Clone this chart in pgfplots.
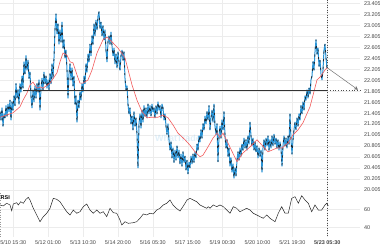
\documentclass[border=0pt]{standalone}
\usepackage{fontspec}
\setmainfont{Liberation Sans}
\usepackage{pgfplots}
\pgfplotsset{compat=1.18}
\usetikzlibrary{arrows.meta}
\definecolor{cblue}{HTML}{2A93D5}
\definecolor{cdark}{HTML}{1C2A36}
\definecolor{mared}{HTML}{F25A5A}
\definecolor{gridc}{HTML}{ECECEC}
\definecolor{tickc}{HTML}{444444}
\pgfplotsset{
  base/.style={
    scale only axis, width=360bp, xmin=0, xmax=360,
    axis line style={draw=none}, major tick length=0pt,
    xmajorgrids, ymajorgrids, grid style={gridc, line width=0.4bp},
    tick label style={font=\fontsize{5.5}{6}\selectfont, text=tickc},
    /pgf/number format/assume math mode=true,
    xtick={13.2,48.1,83,117.9,152.8,187.7,222.6,257.5,292.4,327.3},
    yticklabel pos=right,
    yticklabel style={anchor=west, xshift=0.5bp},
    clip=false,
  },
  price/.style={line join=round}
}
\pgfplotstableread{
x p
0 21.43
1 21.28
2 21.50
3 21.17
4 21.39
5 21.32
6 21.54
7 21.35
8 21.57
9 21.43
10 21.64
11 21.28
12 21.61
13 21.46
14 21.72
15 21.54
16 21.94
17 21.68
18 21.83
19 21.57
20 21.94
21 21.79
22 22.08
23 21.86
24 22.34
25 22.12
26 22.45
27 22.19
28 22.37
29 22.04
30 22.15
31 21.72
32 21.50
33 21.83
34 21.61
35 21.90
36 21.68
37 21.94
38 21.79
39 22.01
40 21.46
41 21.86
42 22.04
43 21.83
44 22.15
45 21.94
46 22.08
47 21.86
48 22.01
49 21.83
50 22.12
51 21.94
52 22.30
53 22.04
54 22.41
55 22.92
56 23.21
57 22.85
58 23.03
59 22.66
60 22.92
61 22.70
62 23.06
63 22.59
64 22.74
65 22.41
66 22.55
67 22.19
68 21.68
69 22.12
70 22.30
71 22.01
72 22.23
73 21.90
74 22.08
75 21.57
76 21.72
77 21.24
78 21.64
79 21.50
80 21.79
81 21.64
82 21.94
83 21.79
84 22.08
85 21.94
86 22.30
87 22.15
88 22.48
89 22.34
90 22.66
91 22.45
92 22.81
93 22.66
94 23.03
95 22.81
96 23.10
97 22.92
98 23.17
99 23.25
100 22.95
101 23.06
102 22.81
103 23.00
104 22.74
105 22.92
106 22.55
107 22.34
108 22.70
109 22.81
110 22.66
111 22.88
112 22.63
113 22.45
114 22.59
115 22.30
116 22.48
117 22.23
118 22.52
119 22.34
120 22.19
121 22.45
122 22.55
123 22.37
124 22.52
125 22.04
126 21.83
127 21.90
128 21.57
129 21.39
130 21.50
131 21.21
132 21.35
133 21.10
134 21.43
135 21.17
136 21.32
137 21.02
138 20.41
139 21.21
140 21.39
141 21.13
142 21.46
143 21.24
144 21.54
145 21.35
146 21.50
147 21.32
148 21.57
149 21.39
150 21.54
151 21.35
152 21.57
153 21.43
154 21.50
155 21.32
156 21.54
157 21.39
158 21.61
159 21.46
160 21.54
161 21.32
162 21.57
163 21.50
164 21.28
165 21.39
166 21.17
167 21.02
168 21.21
169 20.92
170 20.73
171 20.88
172 20.59
173 20.77
174 20.51
175 20.73
176 20.55
177 20.81
178 20.59
179 20.73
180 20.48
181 20.66
182 20.44
183 20.70
184 20.51
185 20.62
186 20.37
187 20.55
188 20.30
189 20.51
190 20.41
191 20.62
192 20.48
193 20.66
194 20.51
195 20.70
196 20.59
197 20.84
198 20.73
199 20.99
200 20.88
201 21.10
202 20.95
203 21.21
204 21.10
205 21.35
206 21.21
207 21.43
208 21.28
209 21.54
210 21.10
211 21.32
212 21.46
213 21.24
214 21.57
215 21.17
216 21.02
217 21.21
218 20.52
219 20.99
220 21.17
221 20.95
222 21.28
223 21.10
224 21.43
225 20.99
226 20.77
227 20.92
228 20.62
229 20.77
230 20.44
231 20.59
232 20.33
233 20.48
234 20.22
235 20.41
236 20.26
237 20.55
238 20.70
239 20.55
240 20.77
241 20.62
242 20.84
243 20.73
244 20.95
245 20.77
246 20.92
247 20.73
248 20.99
249 20.84
250 21.24
251 20.99
252 20.81
253 20.95
254 20.73
255 20.88
256 20.70
257 20.81
258 20.59
259 20.77
260 20.62
261 20.73
262 20.33
263 20.77
264 20.92
265 20.73
266 20.95
267 20.81
268 20.99
269 20.73
270 20.92
271 20.77
272 20.99
273 20.81
274 21.02
275 20.84
276 20.95
277 20.77
278 20.92
279 20.73
280 20.88
281 20.77
282 20.44
283 20.81
284 20.99
285 20.81
286 20.95
287 20.77
288 20.99
289 20.84
290 21.39
291 20.92
292 20.66
293 20.92
294 21.10
295 21.24
296 21.10
297 21.32
298 21.17
299 21.39
300 21.28
301 21.54
302 21.39
303 21.61
304 21.46
305 21.72
306 21.64
307 21.83
308 21.68
309 21.86
310 21.75
311 22.01
312 22.08
313 22.34
314 22.19
315 22.52
316 22.74
317 22.48
318 22.59
319 22.26
320 22.37
321 22.12
322 22.01
323 22.19
324 22.55
325 22.66
326 22.41
327 22.23
}\pricetable
\begin{document}
\begin{tikzpicture}
\path[use as bounding box] (0,0) rectangle (380bp,-250bp);
\begin{axis}[base, at={(0,0)}, anchor=north west, height=195bp,
  ymin=19.914, ymax=23.465,
  xticklabels={},
  ytick={20.005,20.205,20.405,20.605,20.805,21.005,21.205,21.405,21.605,21.805,22.005,22.205,22.405,22.605,22.805,23.005,23.205,23.405},
  yticklabels={20.005,20.205,20.405,20.605,20.805,21.005,21.205,21.405,21.605,21.805,22.005,22.205,22.405,22.605,22.805,23.005,23.205,23.405},
]
\node[font=\fontsize{9}{10}\selectfont\bfseries, text=cblue!40, opacity=0.35] at (axis cs:178,20.94) {WhatTrade};
\addplot[price, cblue, line width=1.0bp] table[x=x, y=p] {\pricetable};
\addplot[price, cdark, line width=0.75bp, dash pattern=on 2.2bp off 5.5bp] table[x=x, y=p] {\pricetable};
\addplot[mared, line width=0.6bp] coordinates {
(0,21.33)(13,21.41)(20,21.52)(23,21.64)(27,21.77)(30,21.92)(33,21.97)(37,21.86)(40,21.88)(43,21.86)
(50,21.95)(57,22.14)(60,22.34)(63,22.50)(67,22.46)(70,22.34)(73,22.32)(77,22.10)(80,21.95)(83,21.95)
(88,22.01)(92,22.19)(97,22.50)(103,22.74)(107,22.79)(110,22.74)(118,22.59)(125,22.41)(132,21.92)(137,21.64)
(142,21.43)(147,21.32)(152,21.33)(158,21.33)(163,21.37)(168,21.32)(173,21.19)(178,21.04)(185,20.92)(190,20.82)
(195,20.70)(200,20.61)(203,20.64)(208,20.79)(213,20.95)(217,21.04)(220,20.97)(223,21.04)(228,20.86)(237,20.52)
(243,20.68)(250,20.79)(257,20.92)(262,20.82)(268,20.70)(277,20.77)(282,20.77)(288,20.86)(293,21.01)(298,21.10)
(303,21.23)(310,21.52)(317,22.01)(320,22.06)(325,22.19)(327,22.23)
};
\addplot[black!80, line width=1.1bp] coordinates {(23,21.82)(327.3,21.82)};
\addplot[black!70, line width=0.7bp, dotted] coordinates {(327.3,21.82)(360,21.82)};
\addplot[black!55, line width=0.5bp, -{Stealth[length=4bp,width=4bp]}] coordinates {(327.3,22.23)(358,21.83)};
\draw[black!70, line width=0.5bp, dotted] (axis cs:327.3,23.465) -- (axis cs:327.3,19.914);
\end{axis}
\begin{axis}[base, at={(0,-193bp)}, anchor=north west, height=44bp,
  ymin=29.2, ymax=78.1,
  ytick={40,60}, yticklabels={40,60},
  xticklabels={5/10 15:30,5/12 01:00,5/13 10:30,5/14 20:00,5/16 05:30,5/17 15:00,5/19 00:30,5/20 10:00,5/21 19:30,\textbf{5/23 05:30}},
  xticklabel style={yshift=-0.5bp},
]
\addplot[black!85, line width=0.5bp] coordinates {
(0,64.8)(3.3,63.7)(6.7,66.7)(10,64.8)(11.7,58.4)(13.3,65.9)(16.7,67.3)(18.3,64.8)(20.7,68.4)(23.3,66.7)
(26,71.1)(28.3,73.3)(30,70.3)(33.3,61.1)(36.7,53.7)(40,46.2)(43.3,51.8)(46.7,55.6)(50,61.1)(53.3,72.2)
(56.7,71.1)(60,68.4)(63.3,62.9)(66.7,57.3)(70,53.7)(73.3,59.2)(76.7,55.6)(80,57.3)(83.3,62.9)(86.7,65.9)
(90,59.2)(93.3,55.6)(96.7,59.2)(100,55.6)(103.3,57.3)(106.7,51.8)(110,61.1)(113.3,56.2)(116.7,55.6)(120,48.1)
(121.7,42.6)(125,46.2)(128.3,44.4)(133.3,45.1)(136.7,46.2)(140,50.0)(143.3,54.8)(146.7,53.7)(150,55.6)(153.3,54.8)
(156.7,59.2)(160,61.1)(163.3,64.8)(166.7,66.7)(170,70.3)(173,64.8)(176,61.4)(180,58.1)(184,64.8)(187,70.3)
(190,72.2)(193.3,70.3)(196.7,68.4)(200,64.8)(203.3,62.9)(206.7,61.1)(208.3,62.9)(210,61.1)(213.3,64.8)(216.7,62.9)
(220,64.8)(223.3,62.9)(226.7,59.2)(230,55.6)(233.3,62.9)(236.7,61.1)(240,57.3)(243.3,59.2)(246.7,61.1)(250,59.2)
(253.3,55.6)(256.7,53.7)(260,51.8)(263.3,50.0)(266.7,53.7)(270,50.0)(275,46.2)(278.3,55.6)(281.7,62.9)(285,55.6)
(288.3,55.6)(291.7,72.2)(295,74.0)(298.3,66.7)(301.7,75.1)(305,70.3)(308.3,66.7)(311.7,57.3)(315,64.8)(318.3,59.2)
(321.7,59.2)(325,64.8)(326.7,66.7)(328.3,64.0)
};
\node[anchor=west, font=\fontsize{5.5}{6}\selectfont\bfseries, inner sep=0.5bp] at (axis cs:0,73.5) {RSI};
\draw[black!70, line width=0.5bp, dotted] (axis cs:327.3,78.1) -- (axis cs:327.3,29.2);
\draw[black!40, line width=0.4bp, dotted] (axis cs:0.3,78.1) -- (axis cs:0.3,29.2);
\end{axis}
\end{tikzpicture}
\end{document}
